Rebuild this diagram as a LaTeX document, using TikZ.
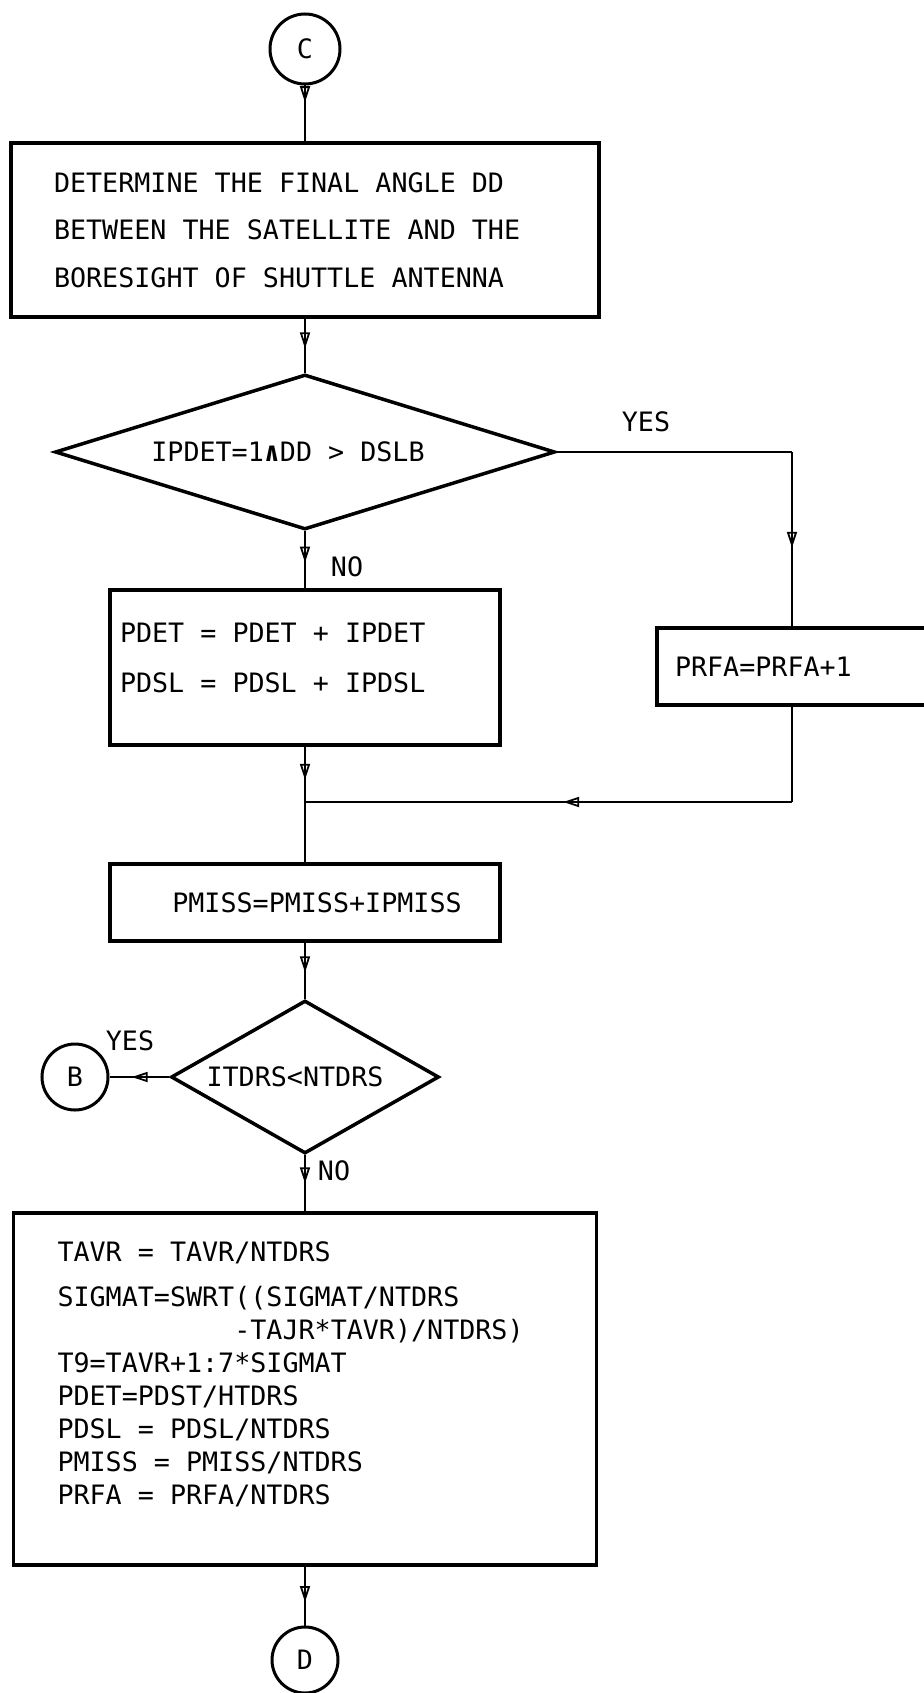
\documentclass[tikz,border=0pt]{standalone}
\usepackage{fontspec}
\newfontfamily\flowfont{DejaVu Sans Mono}
\usetikzlibrary{shapes.geometric,arrows.meta,decorations.markings}

\tikzset{
  flow/.style={line width=2.8pt},
  midarrow/.style={postaction={decorate,decoration={markings,
      mark=at position #1 with {\arrow[line width=1.8pt]{Triangle[open,length=16pt,width=10pt]}}}}},
  midarrow/.default=0.5,
  procbox/.style={draw,rectangle,line width=3.5pt,inner ysep=0pt,inner xsep=#1,align=left},
  decision/.style={draw,diamond,line width=3.5pt,inner sep=0pt},
  connector/.style={draw,circle,line width=3pt,inner sep=0pt,minimum size=#1},
  flowlabel/.style={inner sep=0pt}
}

\begin{document}
\begin{tikzpicture}[x=1pt,y=-1pt,
    every node/.style={font=\flowfont\fontsize{26.7}{33}\selectfont,
      execute at begin node={\spaceskip=0pt\xspaceskip=0pt}}]
  \useasboundingbox[fill=white] (0,0) rectangle (923,1693);

  % upper part: angle test and counters
  \node[connector=70pt] (conC) at (305,49) {C};
  \node[procbox=43pt,minimum width=588pt,minimum height=174pt,text width=502pt,
        font=\flowfont\fontsize{26.7}{47.5}\selectfont] (box1) at (305,230)
    {DETERMINE THE FINAL ANGLE DD\\BETWEEN THE SATELLITE AND THE\\BORESIGHT OF SHUTTLE ANTENNA};
  \node[decision,aspect=3.2,minimum width=500pt,minimum height=155pt] (dec1) at (305,452)
    {IPDET=1\textbf{∧}DD > DSLB\kern34pt};
  \node[procbox=10pt,minimum width=390pt,minimum height=155pt,text width=370pt,
        font=\flowfont\fontsize{26.7}{50}\selectfont] (box2) at (305,667.5)
    {PDET = PDET + IPDET\\PDSL = PDSL + IPDSL\par\vspace{-30pt}\mbox{}};
  \node[procbox=18pt,minimum width=278pt,minimum height=77pt,text width=242pt] (prfa) at (796,666.5)
    {PRFA=PRFA+1};
  \coordinate (yescorner) at (792,452);
  \coordinate (join) at (305,802);
  \coordinate (backcorner) at (792,802);
  \node[flowlabel] (yes1) at (646,422) {YES};
  \node[flowlabel] (no1) at (347,567) {NO};

  % lower part: loop test and averages
  \node[procbox=0pt,minimum width=390pt,minimum height=77pt] (pmiss) at (305,902.5)
    {\hspace{24pt}PMISS=PMISS+IPMISS};
  \node[decision,aspect=1.75,minimum width=268pt,minimum height=153pt] (dec2) at (305,1077)
    {ITDRS<NTDRS\kern20pt};
  \node[connector=66pt] (conB) at (75,1077) {B};
  \node[flowlabel] (yes2) at (130,1041) {YES};
  \node[flowlabel] (no2) at (334,1171) {NO};
  \node[procbox=44pt,minimum width=583pt,minimum height=352pt,text width=495pt] (box3) at (305,1389)
    {TAVR = TAVR/NTDRS\\[12pt]
     SIGMAT=SWRT((SIGMAT/NTDRS\\
     \phantom{SIGMAT=SWRT}-TAJR*TAVR)/NTDRS)\\
     T9=TAVR+1:7*SIGMAT\\
     PDET=PDST/HTDRS\\
     PDSL = PDSL/NTDRS\\
     PMISS = PMISS/NTDRS\\
     PRFA = PRFA/NTDRS\par\vspace{-2pt}\mbox{}};
  \node[connector=66pt] (conD) at (305,1660) {D};

  % connectors
  \draw[flow,midarrow=0.3] (conC) -- (box1);
  \draw[flow,midarrow=0.55] (box1) -- (dec1);
  \draw[flow,midarrow=0.55] (dec1) -- (box2);
  \draw[flow,midarrow=0.6] (box2) -- (join);
  \draw[flow] (dec1) -- (yescorner);
  \draw[flow,midarrow=0.55] (yescorner) -- (yescorner |- prfa.north);
  \draw[flow] (yescorner |- prfa.south) -- (backcorner);
  \draw[flow,midarrow=0.47] (backcorner) -- (join);
  \draw[flow] (join) -- (pmiss);
  \draw[flow,midarrow=0.53] (pmiss) -- (dec2);
  \draw[flow,midarrow=0.63] (dec2) -- (conB);
  \draw[flow,midarrow=0.5] (dec2) -- (box3);
  \draw[flow,midarrow=0.6] (box3) -- (conD);
\end{tikzpicture}
\end{document}
